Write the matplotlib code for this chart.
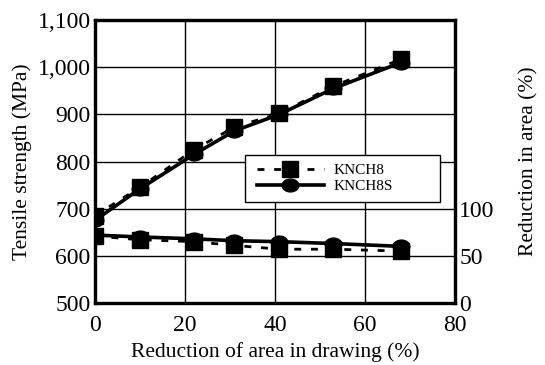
import numpy as np
import matplotlib
matplotlib.use("Agg")
import matplotlib.pyplot as plt
from matplotlib.patches import Rectangle
from matplotlib.path import Path

plt.rcParams['font.family'] = ['Liberation Serif', 'DejaVu Serif']

# drawing reduction (%)
draw_x = [0, 10, 22, 31, 41, 53, 68]

# tensile strength (MPa)
ts_knch8 = [685, 745, 825, 873, 902, 960, 1017]
ts_knch8s = [675, 742, 815, 865, 900, 955, 1010]

# reduction in area (%), right axis
ra_knch8 = [71, 67, 65, 61, 57, 57, 55]
ra_knch8s = [72, 70, 68, 66, 65, 63, 60]


def main():
    t = np.linspace(0, 2 * np.pi, 40)
    ellipse = Path(np.column_stack([1.3 * np.cos(t), np.sin(t)]), closed=True)

    dash = (0, (2.5, 3.5))
    sq = dict(linestyle=dash, color='black', linewidth=2, marker='s', markersize=11)
    ci = dict(linestyle='-', color='black', linewidth=2.6, marker=ellipse, markersize=12)

    fig = plt.figure(figsize=(5.45, 3.65), dpi=100)
    ax = fig.add_axes([0.174, 0.170, 0.661, 0.775])
    ax2 = ax.twinx()

    ax.plot(draw_x, ts_knch8, label='KNCH8', **sq)
    ax.plot(draw_x, ts_knch8s, label='KNCH8S', **ci)
    ax2.plot(draw_x, ra_knch8, **sq)
    ax2.plot(draw_x, ra_knch8s, **ci)

    ax.set_xlim(0, 80)
    ax.set_ylim(500, 1100)
    ax2.set_ylim(0, 300)
    ax.set_xticks([0, 20, 40, 60, 80])
    ax.set_yticks(range(500, 1101, 100))
    ax.set_yticklabels(['500', '600', '700', '800', '900', '1,000', '1,100'])
    ax2.set_yticks([0, 50, 100])

    ax.grid(True, color='black', linewidth=1.0)
    ax.tick_params(axis='y', labelsize=17, length=0, pad=3)
    ax.tick_params(axis='x', labelsize=17, length=0, pad=9)
    ax2.tick_params(labelsize=17, length=0, pad=3)
    for sp in list(ax.spines.values()) + list(ax2.spines.values()):
        sp.set_linewidth(2.3)

    ax.set_xlabel('Reduction of area in drawing (%)', fontsize=15.5, labelpad=4)
    ax.set_ylabel('Tensile strength (MPa)', fontsize=15.5, labelpad=4)
    ax2.set_ylabel('Reduction in area (%)', fontsize=15.5, labelpad=18)

    ax.add_patch(Rectangle((0.417, 0.357), 0.541, 0.166, transform=ax.transAxes,
                           facecolor='white', edgecolor='black', linewidth=1.0, zorder=4))
    leg = ax.legend(loc='center left', bbox_to_anchor=(0.42, 0.44), fontsize=11,
                    frameon=False, handlelength=4.4, borderpad=0.2, labelspacing=0.15,
                    handletextpad=0.6)
    leg.set_zorder(5)

    fig.savefig('out.png', dpi=100)


if __name__ == "__main__":
    main()
